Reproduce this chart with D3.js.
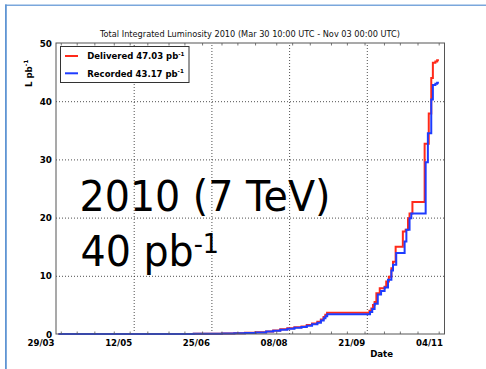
<!DOCTYPE html>
<html>
<head>
<meta charset="utf-8">
<script src="https://cdn.jsdelivr.net/npm/d3@7"></script>
<style>
  html, body { margin: 0; padding: 0; background: #fff; }
  svg { display: block; }
  text { font-family: "DejaVu Sans", sans-serif; }
</style>
</head>
<body>
<svg id="chart" width="486" height="369"></svg>
<script>
// Cumulative integrated luminosity, 2010 run (pb^-1)
const deliveredDates = [
  "2010-03-30T10:00", "2010-04-20T00:00", "2010-05-20T00:00", "2010-06-15T00:00",
  "2010-07-01T00:00", "2010-07-08T00:00", "2010-07-14T00:00", "2010-07-20T00:00",
  "2010-07-26T00:00", "2010-07-30T00:00", "2010-08-03T00:00", "2010-08-07T00:00",
  "2010-08-11T00:00", "2010-08-15T00:00", "2010-08-18T00:00", "2010-08-21T00:00",
  "2010-08-24T00:00", "2010-08-26T00:00", "2010-08-27T12:00", "2010-08-28T12:00",
  "2010-08-29T12:00", "2010-09-22T12:00", "2010-09-23T14:00", "2010-09-24T12:00",
  "2010-09-25T10:00", "2010-09-26T10:00", "2010-09-28T08:00", "2010-10-01T02:00",
  "2010-10-02T00:00", "2010-10-03T12:00", "2010-10-04T22:00", "2010-10-05T20:00",
  "2010-10-07T08:00", "2010-10-11T10:00", "2010-10-13T00:00", "2010-10-14T08:00",
  "2010-10-15T05:00", "2010-10-16T20:00", "2010-10-23T18:00", "2010-10-26T02:00",
  "2010-10-27T12:00", "2010-10-28T10:00", "2010-10-29T20:00", "2010-10-30T20:00",
  "2010-10-31T20:00"
];
const deliveredValues = [
  0, 0.003, 0.012, 0.03,
  0.08, 0.12, 0.2, 0.3,
  0.45, 0.6, 0.8, 1.0,
  1.15, 1.3, 1.55, 1.8,
  2.1, 2.5, 2.9, 3.3,
  3.66, 4.0, 4.4, 5.0,
  5.5, 7.0, 7.85, 8.1,
  9.0, 9.85, 11.3, 12.4,
  15.0, 17.6, 17.9, 19.9,
  20.7, 22.7, 32.7, 37.9,
  44.0, 46.6, 46.8, 47.03,
  47.03
];

const recordedDates = [
  "2010-03-30T10:00", "2010-04-20T00:00", "2010-05-20T00:00", "2010-06-15T00:00",
  "2010-07-01T00:00", "2010-07-08T00:00", "2010-07-14T00:00", "2010-07-20T00:00",
  "2010-07-26T00:00", "2010-07-30T00:00", "2010-08-03T00:00", "2010-08-07T00:00",
  "2010-08-11T00:00", "2010-08-15T00:00", "2010-08-18T00:00", "2010-08-21T00:00",
  "2010-08-24T00:00", "2010-08-26T00:00", "2010-08-27T14:00", "2010-08-28T14:00",
  "2010-08-29T14:00", "2010-09-22T20:00", "2010-09-24T02:00", "2010-09-25T10:00",
  "2010-09-27T05:00", "2010-09-29T02:00", "2010-10-01T02:00", "2010-10-03T00:00",
  "2010-10-04T22:00", "2010-10-05T20:00", "2010-10-07T16:00", "2010-10-12T10:00",
  "2010-10-13T10:00", "2010-10-15T05:00", "2010-10-16T05:00", "2010-10-24T08:00",
  "2010-10-25T14:00", "2010-10-27T12:00", "2010-10-28T10:00", "2010-10-29T20:00",
  "2010-10-30T20:00", "2010-10-31T20:00"
];
const recordedValues = [
  0, 0.002, 0.01, 0.027,
  0.07, 0.11, 0.18, 0.27,
  0.41, 0.55, 0.74, 0.92,
  1.06, 1.2, 1.43, 1.66,
  1.95, 2.3, 2.7, 3.05,
  3.4, 3.8, 4.3, 5.2,
  6.8, 7.4, 8.0, 9.3,
  10.9, 11.9, 13.9, 15.9,
  17.9, 19.9, 20.7, 29.5,
  34.5, 40.3, 42.8, 43.0,
  43.17, 43.17
];

const xTickDates = ["2010-03-29", "2010-05-12", "2010-06-25", "2010-08-08", "2010-09-21", "2010-11-04"];
const yTickValues = [0, 10, 20, 30, 40, 50];
const xDomain = ["2010-03-29", "2010-11-04"];
const yDomain = [0, 50];

const titleText = "Total Integrated Luminosity 2010 (Mar 30 10:00 UTC - Nov 03 00:00 UTC)";
const seriesNames = ["Delivered", "Recorded"];
const seriesColors = ["#ff2a1a", "#1e3cff"];

const parseTime = d3.utcParse("%Y-%m-%dT%H:%M");
const parseDay = d3.utcParse("%Y-%m-%d");

const delivered = deliveredDates.map((d, i) => ({ date: parseTime(d), value: deliveredValues[i] }));
const recorded = recordedDates.map((d, i) => ({ date: parseTime(d), value: recordedValues[i] }));

const svg = d3.select("#chart");

// slide frame
svg.append("line").attr("x1", 5).attr("x2", 486).attr("y1", 5.25).attr("y2", 5.25)
  .attr("stroke", "#7aa7dc").attr("stroke-width", 1.5);
svg.append("line").attr("x1", 5.9).attr("x2", 5.9).attr("y1", 4.5).attr("y2", 369)
  .attr("stroke", "#5f95d3").attr("stroke-width", 1.8);

const plot = { left: 56, right: 444.5, top: 43, bottom: 334 };

const x = d3.scaleUtc().domain(xDomain.map(parseDay)).range([plot.left, plot.right]);
const y = d3.scaleLinear().domain(yDomain).range([plot.bottom, plot.top]);

const g = svg.append("g");

// grid
const xGrid = d3.axisBottom(x).tickValues(xTickDates.map(parseDay).slice(1, -1))
  .tickSize(-(plot.bottom - plot.top)).tickFormat("");
g.append("g").attr("transform", `translate(0,${plot.bottom})`).call(xGrid)
  .call(s => s.select(".domain").remove())
  .selectAll("line").attr("stroke", "#222").attr("stroke-width", 0.8).attr("stroke-dasharray", "1,2");

const yGrid = d3.axisLeft(y).tickValues(yTickValues.slice(1, -1))
  .tickSize(-(plot.right - plot.left)).tickFormat("");
g.append("g").attr("transform", `translate(${plot.left},0)`).call(yGrid)
  .call(s => s.select(".domain").remove())
  .selectAll("line").attr("stroke", "#222").attr("stroke-width", 0.8).attr("stroke-dasharray", "1,2");

// big annotation (narrow humanist face, condensed to Calibri-like proportions)
const big = g.append("g").attr("transform", "translate(79.5,0) scale(0.943,1)")
  .attr("font-family", "Carlito, Calibri, Lato, 'Open Sans', sans-serif").attr("fill", "#000");
big.append("text").attr("x", 0).attr("y", 211).attr("font-size", 42).text("2010 (7 TeV)");
const t2 = big.append("text").attr("x", 1).attr("y", 266.5).attr("font-size", 42);
t2.append("tspan").text("40 pb");
t2.append("tspan").attr("font-size", 27).attr("dy", -13.5).text("-1");

// series
const line = d3.line().x(d => x(d.date)).y(d => y(d.value)).curve(d3.curveStepAfter);
[delivered, recorded].forEach((data, i) => {
  g.append("path").datum(data).attr("d", line)
    .attr("fill", "none").attr("stroke", seriesColors[i]).attr("stroke-width", 2)
    .attr("stroke-linejoin", "miter");
});

// frame
g.append("rect").attr("x", plot.left).attr("y", plot.top)
  .attr("width", plot.right - plot.left).attr("height", plot.bottom - plot.top)
  .attr("fill", "none").attr("stroke", "#555").attr("stroke-width", 1);

// minor date ticks (1st, 10th, 20th of each month)
const minorDates = [];
d3.utcMonths(parseDay("2010-03-01"), parseDay("2010-12-01")).forEach(m => {
  [1, 10, 20].forEach(day => {
    const d = new Date(Date.UTC(m.getUTCFullYear(), m.getUTCMonth(), day));
    if (d > x.domain()[0] && d < x.domain()[1]) minorDates.push(d);
  });
});
const tickStroke = "#555";
g.append("g").selectAll("line.mb").data(minorDates).join("line")
  .attr("x1", d => x(d)).attr("x2", d => x(d)).attr("y1", plot.bottom).attr("y2", plot.bottom - 2.5)
  .attr("stroke", tickStroke).attr("stroke-width", 0.8);
g.append("g").selectAll("line.mt").data(minorDates).join("line")
  .attr("x1", d => x(d)).attr("x2", d => x(d)).attr("y1", plot.top).attr("y2", plot.top + 2.5)
  .attr("stroke", tickStroke).attr("stroke-width", 0.8);

// x axis labels
const xAxis = d3.axisBottom(x).tickValues(xTickDates.map(parseDay))
  .tickSize(0).tickPadding(0).tickFormat(d3.utcFormat("%d/%m"));
g.append("g").attr("transform", `translate(0,${plot.bottom})`).call(xAxis)
  .call(s => s.select(".domain").remove())
  .selectAll("text")
  .attr("font-family", "DejaVu Sans, sans-serif").attr("font-weight", "bold").attr("font-size", 8.6)
  .attr("fill", "#000").attr("text-anchor", "end").attr("dx", -2).attr("dy", 0).attr("y", 11.5);

// y axis labels
const yAxis = d3.axisLeft(y).tickValues(yTickValues).tickSize(0).tickPadding(4).tickFormat(d3.format("d"));
g.append("g").attr("transform", `translate(${plot.left},0)`).call(yAxis)
  .call(s => s.select(".domain").remove())
  .selectAll("text")
  .attr("font-family", "DejaVu Sans, sans-serif").attr("font-weight", "bold").attr("font-size", 8.8)
  .attr("fill", "#000").attr("dy", "0.34em");

// title
svg.append("text").attr("x", 250).attr("y", 37).attr("text-anchor", "middle")
  .attr("font-size", 8.2).attr("fill", "#111").text(titleText);

// axis titles
svg.append("text").attr("x", 393).attr("y", 356.5).attr("text-anchor", "end")
  .attr("font-weight", "bold").attr("font-size", 8.6).text("Date");
const yl = svg.append("text").attr("transform", "translate(31.5,87) rotate(-90)")
  .attr("font-weight", "bold").attr("font-size", 8.6);
yl.append("tspan").text("L pb");
yl.append("tspan").attr("font-size", 5.8).attr("dy", -3.5).text("-1");

// legend
const leg = svg.append("g");
leg.append("rect").attr("x", 60.5).attr("y", 46.5).attr("width", 128.5).attr("height", 36)
  .attr("fill", "#fff").attr("stroke", "#333").attr("stroke-width", 1);
const legendValues = [deliveredValues[deliveredValues.length - 1], recordedValues[recordedValues.length - 1]];
seriesNames.forEach((name, i) => {
  const yy = 56 + i * 17.3;
  leg.append("line").attr("x1", 65).attr("x2", 78).attr("y1", yy).attr("y2", yy)
    .attr("stroke", seriesColors[i]).attr("stroke-width", 2);
  const t = leg.append("text").attr("x", 87.3).attr("y", yy + 3.2)
    .attr("font-weight", "bold").attr("font-size", 8.5).attr("fill", "#000");
  t.append("tspan").text(`${name} ${legendValues[i].toFixed(2)} pb`);
  t.append("tspan").attr("font-size", 5.6).attr("dy", -3.5).text("-1");
});
</script>
</body>
</html>
